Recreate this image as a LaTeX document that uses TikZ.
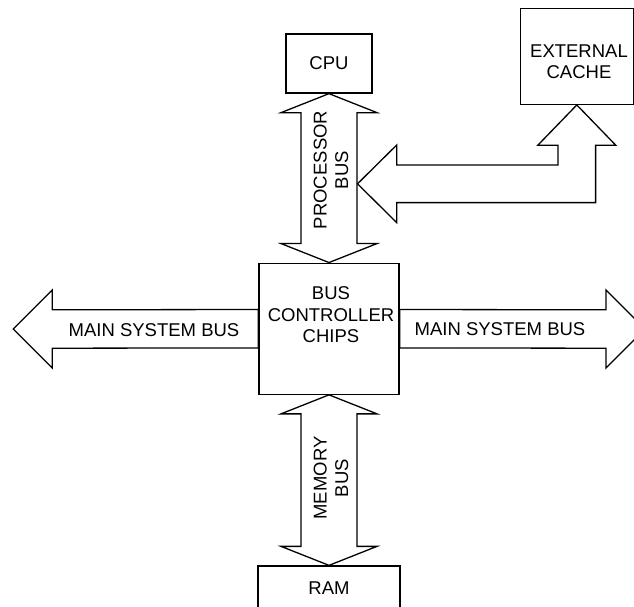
\documentclass[tikz,border=0pt]{standalone}
\usepackage{fontspec}
\setmainfont{Liberation Sans}
\usetikzlibrary{calc}

\tikzset{
  lbl/.style={font=\fontsize{18.5}{21.5}\selectfont, align=center, inner sep=0pt},
  unit/.style={draw, line width=1.3pt, fill=white, inner sep=0pt, lbl},
  bus/.style={draw, line width=1.3pt, fill=white, line join=miter},
}

% vertical two-headed bus between two tip coordinates (#1 top, #2 bottom)
\newcommand{\vbus}[2]{%
  \draw[bus] (#1) -- ($(#1)+(48,19)$) -- ($(#1)+(28,19)$)
    -- ($(#2)+(28,-19)$) -- ($(#2)+(48,-19)$) -- (#2)
    -- ($(#2)+(-48,-19)$) -- ($(#2)+(-28,-19)$)
    -- ($(#1)+(-28,19)$) -- ($(#1)+(-48,19)$) -- cycle;}

\begin{document}
\begin{tikzpicture}[x=1pt, y=-1pt]
\useasboundingbox (0,0) rectangle (634,606);

% functional units
\node[unit, minimum width=86pt, minimum height=59pt] (cpu) at (329,63.5) {CPU};
\node[unit, minimum width=113pt, minimum height=96pt] (cache) at (576.8,56.3) {};
\node[lbl] (cachetext) at (579,61.5) {EXTERNAL\\CACHE};
\node[unit, minimum width=140pt, minimum height=131pt] (ctrl) at (329,328.7) {};
\node[unit, minimum width=142pt, minimum height=44pt] (ram) at (329,588) {RAM};

% processor and memory buses
\vbus{cpu.south}{ctrl.north}
\vbus{ctrl.south}{ram.north}
\node[lbl, rotate=90] (pbus) at (331,170) {PROCESSOR\\BUS};
\node[lbl, rotate=90] (mbus) at (331,478) {MEMORY\\BUS};

% cache bus: up into the cache, left into the processor bus
\coordinate (ctip) at (357.5,183.8);
\coordinate (cbend) at (cache.south |- ctip);
\draw[bus] (ctip) -- ($(ctip)+(39.2,-38.8)$) -- ($(ctip)+(39.2,-18.8)$)
  -- ($(cbend)+(-18.8,-18.8)$) -- ($(cache.south)+(-18.8,40.3)$)
  -- ($(cache.south)+(-39,40.3)$) -- (cache.south)
  -- ($(cache.south)+(39,40.3)$) -- ($(cache.south)+(18.8,40.3)$)
  -- ($(cbend)+(18.8,18.8)$) -- ($(ctip)+(39.2,18.8)$)
  -- ($(ctip)+(39.2,38.8)$) -- cycle;

% main system bus, both directions
\coordinate (ltip) at (13.3,329);
\coordinate (rtip) at (645,329);
\draw[bus] (ltip) -- ($(ltip)+(39,-39)$) -- ($(ltip)+(39,-19.2)$)
  -- ($(ctrl.west)+(0,-19.2)$) -- ($(ctrl.west)+(0,19.2)$)
  -- ($(ltip)+(39,19.2)$) -- ($(ltip)+(39,39)$) -- cycle;
\draw[bus] (rtip) -- ($(rtip)+(-39,-39)$) -- ($(rtip)+(-39,-19.2)$)
  -- ($(ctrl.east)+(0,-19.2)$) -- ($(ctrl.east)+(0,19.2)$)
  -- ($(rtip)+(-39,19.2)$) -- ($(rtip)+(-39,39)$) -- cycle;
\node[lbl] (lbus) at (154,330) {MAIN SYSTEM BUS};
\node[lbl] (rbus) at (500,329) {MAIN SYSTEM BUS};

% controller label sits above the box centre
\node[lbl] (ctrltext) at (331,315) {BUS\\CONTROLLER\\CHIPS};
\end{tikzpicture}
\end{document}
